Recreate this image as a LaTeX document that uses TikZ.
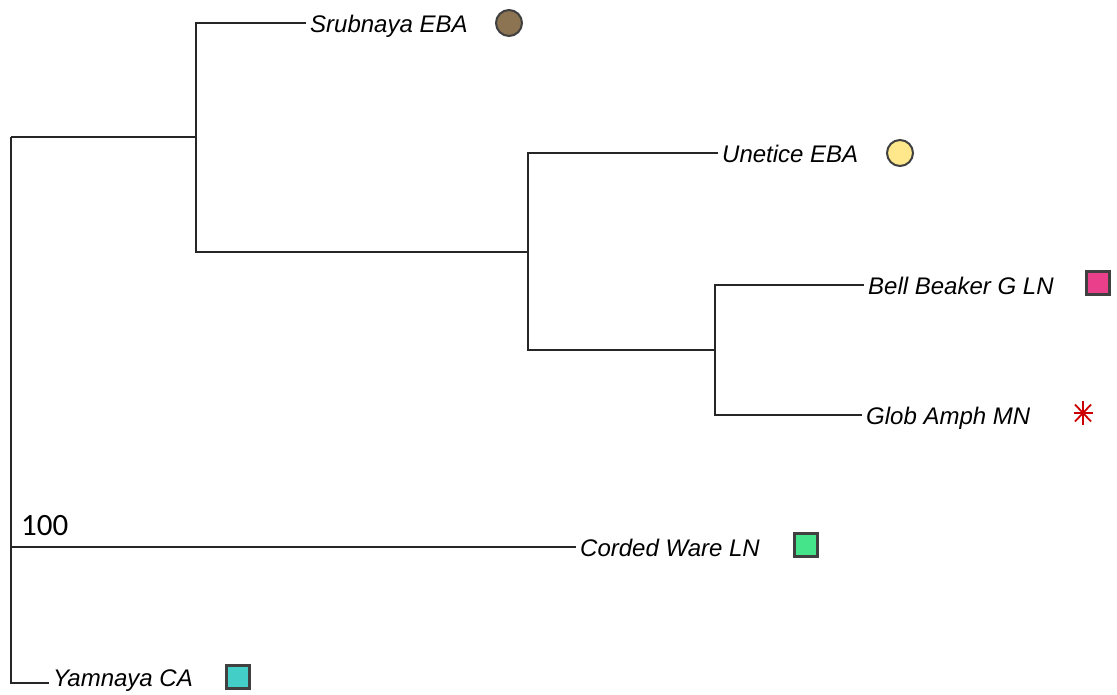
\documentclass[tikz,border=0pt]{standalone}
\usepackage{fontspec}
\setmainfont{Liberation Sans}
\newfontfamily\numfont{Carlito}
\begin{document}
\begin{tikzpicture}[x=1pt,y=-1pt,
  branch/.style={draw=black!85, line width=1.5pt},
  leaf/.style={anchor=west, inner xsep=4pt, inner ysep=0pt, yshift=-1pt, font=\fontsize{24}{28}\selectfont\itshape, text height=17pt, text depth=0pt},
  dotmark/.style={circle, draw=black!75, line width=2pt, minimum size=26pt, inner sep=0pt},
  boxmark/.style={rectangle, draw=black!75, line width=2.2pt, minimum size=23pt, inner sep=0pt},
  starmark/.style={draw=red!80!black, line width=1.8pt}
]
\useasboundingbox (0,0) rectangle (1117,695);
% internal points
\coordinate (rootT) at (11,137);
\coordinate (rootB) at (11,683);
\coordinate (rootC) at (11,547);
\coordinate (A) at (196,137);
\coordinate (At) at (196,23);
\coordinate (Ab) at (196,252);
\coordinate (B) at (528,252);
\coordinate (Bt) at (528,153);
\coordinate (Bb) at (528,350);
\coordinate (C) at (715,350);
\coordinate (Ct) at (715,285);
\coordinate (Cb) at (715,415);
% leaves
\node[leaf] (srub) at (306,23) {Srubnaya EBA};
\node[leaf] (unet) at (718,153) {Unetice EBA};
\node[leaf] (bell) at (864,285) {Bell Beaker G LN};
\node[leaf] (glob) at (862,415) {Glob Amph MN};
\node[leaf] (cord) at (576,547) {Corded Ware LN};
\node[leaf] (yamn) at (49,677) {Yamnaya CA};
% markers
\node[dotmark, fill={rgb,255:red,140;green,115;blue,82}] (msrub) at (509,23) {};
\node[dotmark, fill={rgb,255:red,255;green,232;blue,140}] (munet) at (900,153) {};
\node[boxmark, fill={rgb,255:red,234;green,64;blue,140}] (mbell) at (1098,283) {};
\node[boxmark, fill={rgb,255:red,70;green,228;blue,138}] (mcord) at (806,545) {};
\node[boxmark, fill={rgb,255:red,68;green,206;blue,200}] (myamn) at (238,677) {};
\coordinate (mglob) at (1083,413);
\draw[starmark] ([yshift=-12pt]mglob) -- ([yshift=12pt]mglob);
\draw[starmark] ([xshift=-9.5pt]mglob) -- ([xshift=9.5pt]mglob);
\draw[starmark] ([shift={(-8,-8.5)}]mglob) -- ([shift={(8,8.5)}]mglob);
\draw[starmark] ([shift={(-8,8.5)}]mglob) -- ([shift={(8,-8.5)}]mglob);
% support value
\node[anchor=base west, inner sep=0pt, font=\numfont\fontsize{31}{34}\selectfont] (boot) at (21,535) {100};
% branches
\draw[branch] (rootT) -- (rootB) -- (yamn.west |- rootB);
\draw[branch] (rootC) -- (cord.west |- rootC);
\draw[branch] (rootT) -- (A);
\draw[branch] (srub.west |- At) -- (At) -- (Ab) -- (B);
\draw[branch] (unet.west |- Bt) -- (Bt) -- (Bb) -- (C);
\draw[branch] (bell.west |- Ct) -- (Ct) -- (Cb) -- (glob.west |- Cb);
\end{tikzpicture}
\end{document}
